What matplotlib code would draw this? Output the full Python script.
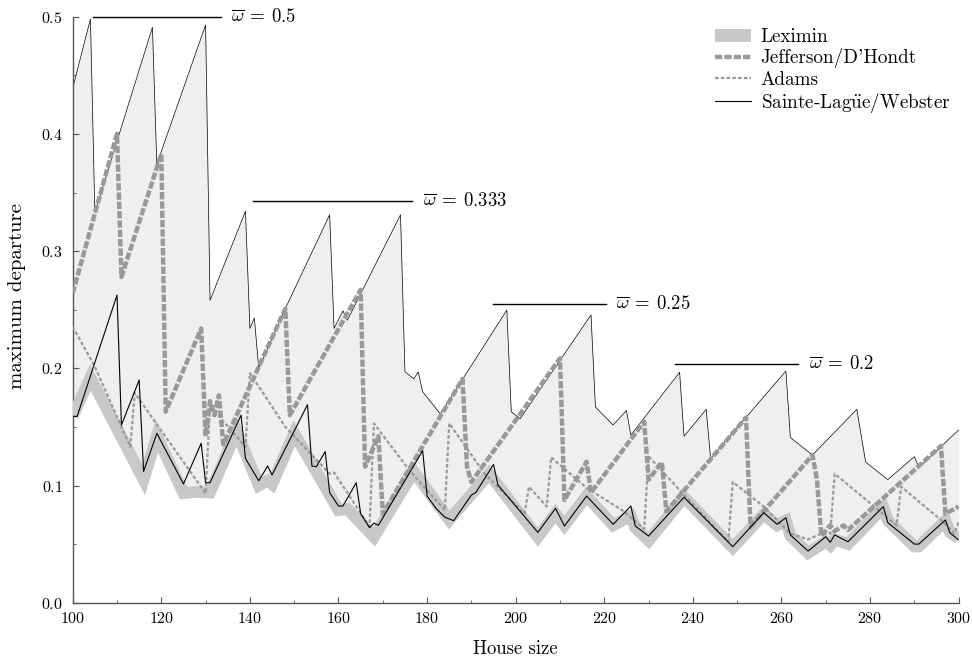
"""
Maximum departure vs house size for several apportionment methods.
Saves out.png.
"""

import matplotlib
matplotlib.use("Agg")
import numpy as np
import matplotlib.pyplot as plt
from matplotlib.patches import Patch
from matplotlib.ticker import MultipleLocator

# upper envelope of the shaded region (thin black line)
upper_x = [100, 104, 105, 118, 119, 120, 130, 131, 139, 140, 141, 142, 148, 158, 159, 161, 162,
           174, 175, 177, 178, 179, 183, 198, 199, 201, 217, 218, 222, 225, 226, 237, 238,
           243, 244, 261, 262, 267, 277, 279, 284, 290, 291, 300]
upper_y = [0.439, 0.498, 0.333, 0.491, 0.372, 0.385, 0.493, 0.258, 0.334, 0.234, 0.243, 0.200,
           0.251, 0.331, 0.234, 0.249, 0.241, 0.331, 0.197, 0.191, 0.197, 0.180, 0.161, 0.2497,
           0.163, 0.157, 0.2455, 0.167, 0.1516, 0.164, 0.143, 0.1966, 0.142, 0.165, 0.123,
           0.1977, 0.141, 0.126, 0.165, 0.120, 0.105, 0.1246, 0.1155, 0.1474]

# Leximin
lex_x = [100, 104, 116, 119, 125, 128, 131, 137, 142, 144, 145, 150, 160, 162, 168, 177, 185,
         194, 205, 209, 211, 216, 222, 226, 227, 230, 238, 249, 256, 259, 261, 262, 266, 270,
         271, 272, 275, 283, 284, 290, 291, 297, 298, 300]
lex_y = [0.159, 0.192, 0.105, 0.142, 0.0935, 0.0945, 0.094, 0.146, 0.100, 0.104, 0.101, 0.1445,
         0.079, 0.080, 0.056, 0.112, 0.0706, 0.110, 0.056, 0.076, 0.066, 0.091, 0.066, 0.074,
         0.064, 0.053, 0.090, 0.047, 0.0755, 0.066, 0.070, 0.057, 0.0425, 0.052, 0.049, 0.054,
         0.050, 0.081, 0.070, 0.048, 0.048, 0.070, 0.060, 0.055]

# Jefferson / D'Hondt
jeff_x = [100, 110, 111, 120, 121, 129, 130, 131, 132, 133, 134, 148, 149, 165, 166, 169, 170,
          188, 189, 190, 210, 211, 216, 217, 229, 230, 233, 234, 252, 253, 267, 268, 269, 271,
          272, 274, 275, 296, 297, 300]
jeff_y = [0.264, 0.400, 0.278, 0.383, 0.163, 0.234, 0.142, 0.172, 0.160, 0.177, 0.135, 0.251,
          0.160, 0.267, 0.116, 0.142, 0.076, 0.191, 0.116, 0.103, 0.2085, 0.0876, 0.1203, 0.094,
          0.1545, 0.105, 0.120, 0.078, 0.158, 0.065, 0.126, 0.105, 0.057, 0.066, 0.061, 0.066,
          0.062, 0.1337, 0.076, 0.082]

# Adams
adams_x = [100, 105, 113, 114, 130, 131, 139, 140, 148, 158, 159, 167, 168, 176, 184, 185, 193,
           202, 203, 207, 208, 216, 224, 225, 229, 230, 238, 248, 249, 256, 262, 266, 269, 271,
           272, 280, 286, 287, 296, 299, 300]
adams_y = [0.2355, 0.2014, 0.133, 0.179, 0.0933, 0.168, 0.133, 0.196, 0.150, 0.110, 0.111,
           0.065, 0.153, 0.113, 0.079, 0.153, 0.110, 0.076, 0.099, 0.082, 0.124, 0.098, 0.079,
           0.076, 0.063, 0.125, 0.092, 0.052, 0.103, 0.082, 0.059, 0.054, 0.059, 0.059, 0.110,
           0.085, 0.066, 0.099, 0.0706, 0.059, 0.069]

# Sainte-Lague / Webster
sl_x = [100, 101, 110, 111, 115, 116, 119, 125, 129, 130, 131, 138, 139, 142, 144, 145, 153,
        154, 155, 157, 158, 160, 161, 164, 165, 167, 168, 169, 179, 180, 182, 184, 186, 190,
        191, 195, 196, 205, 209, 211, 216, 222, 226, 227, 230, 238, 249, 256, 259, 261, 262,
        266, 270, 271, 272, 275, 283, 284, 290, 291, 297, 298, 300]
sl_y = [0.159, 0.159, 0.2625, 0.1516, 0.190, 0.112, 0.1445, 0.1013, 0.136, 0.1024, 0.1024,
        0.160, 0.123, 0.104, 0.1166, 0.109, 0.169, 0.1166, 0.116, 0.129, 0.0939, 0.0825,
        0.0825, 0.1024, 0.076, 0.064, 0.068, 0.066, 0.1297, 0.091, 0.0805, 0.073, 0.070,
        0.0919, 0.094, 0.118, 0.1004, 0.060, 0.0805, 0.0654, 0.091, 0.0669, 0.0825, 0.0654,
        0.0569, 0.090, 0.0478, 0.0768, 0.0669, 0.0725, 0.0578, 0.0441, 0.0563, 0.0515,
        0.0578, 0.052, 0.082, 0.0683, 0.050, 0.050, 0.0706, 0.0597, 0.0535]

# reference levels
omega_labels = ["0.5", "0.333", "0.25", "0.2"]
omega_y = [0.5, 0.343, 0.2546, 0.204]
omega_x0 = [104.5, 140.8, 194.9, 236.0]
omega_x1 = [133.4, 176.7, 220.3, 263.8]


def main():
    plt.rcParams["font.family"] = "serif"
    plt.rcParams["font.serif"] = ["cmr10"]
    plt.rcParams["mathtext.fontset"] = "cm"
    plt.rcParams["axes.formatter.use_mathtext"] = True

    fig = plt.figure(figsize=(9.72, 6.61), dpi=100)
    ax = fig.add_axes([0.0748, 0.0882, 0.9115, 0.8865])

    # shaded region between leximin and the upper envelope
    grid = np.union1d(upper_x, lex_x)
    up = np.interp(grid, upper_x, upper_y)
    lo = np.interp(grid, lex_x, lex_y)
    ax.fill_between(grid, lo, up, color="#efefef", lw=0, zorder=1)
    ax.plot(upper_x, upper_y, color="black", lw=0.5, zorder=2)

    ax.plot(lex_x, lex_y, color="#c8c8c8", lw=8.5, solid_joinstyle="miter",
            solid_capstyle="butt", zorder=3)
    ax.plot(adams_x, adams_y, color="#999999", lw=1.6, dashes=(1.6, 1.0), zorder=4)
    ax.plot(jeff_x, jeff_y, color="#999999", lw=3.2, dashes=(1.65, 0.45), zorder=5)
    ax.plot(sl_x, sl_y, color="black", lw=0.8, zorder=6)

    for lab, y, x0, x1 in zip(omega_labels, omega_y, omega_x0, omega_x1):
        ax.plot([x0, x1], [y, y], color="black", lw=1.0, clip_on=False, zorder=7)
        ax.text(x1 + 2.3, y, r"$\overline{\omega}\:=\:" + lab + "$", fontsize=13.5,
                ha="left", va="center")

    ax.set_xlim(100, 300)
    ax.set_ylim(0, 0.5)
    ax.xaxis.set_major_locator(MultipleLocator(20))
    ax.xaxis.set_minor_locator(MultipleLocator(10))
    ax.yaxis.set_major_locator(MultipleLocator(0.1))
    ax.yaxis.set_minor_locator(MultipleLocator(0.05))
    for s in ["top", "right"]:
        ax.spines[s].set_visible(False)
    for s in ["left", "bottom"]:
        ax.spines[s].set_color("#555555")
        ax.spines[s].set_linewidth(1.0)
    ax.tick_params(which="both", direction="in", colors="#555555", labelcolor="black",
                   labelsize=11.5)
    ax.tick_params(which="major", length=4)
    ax.tick_params(which="minor", length=2)
    ax.tick_params(axis="y", pad=7)
    ax.tick_params(axis="x", pad=6)

    ax.set_xlabel("House size", fontsize=13.5, labelpad=10)
    ax.set_ylabel("maximum departure", fontsize=15)
    ax.yaxis.set_label_coords(-0.053, 0.523)

    handles = [
        Patch(facecolor="#c8c8c8", edgecolor="none"),
        plt.Line2D([], [], color="#999999", lw=3.2, dashes=(1.65, 0.45)),
        plt.Line2D([], [], color="#999999", lw=1.6, dashes=(1.6, 1.0)),
        plt.Line2D([], [], color="black", lw=0.8),
    ]
    labels = ["Leximin", "Jefferson/D'Hondt", "Adams", r"Sainte-Lag$\ddot{\rm u}$e/Webster"]
    ax.legend(handles, labels, loc="upper right", frameon=False, fontsize=13.8,
              handlelength=1.9, labelspacing=0.12, handletextpad=0.5,
              bbox_to_anchor=(1.01, 1.01))

    fig.savefig("out.png", dpi=100)
    plt.close(fig)


if __name__ == "__main__":
    main()
